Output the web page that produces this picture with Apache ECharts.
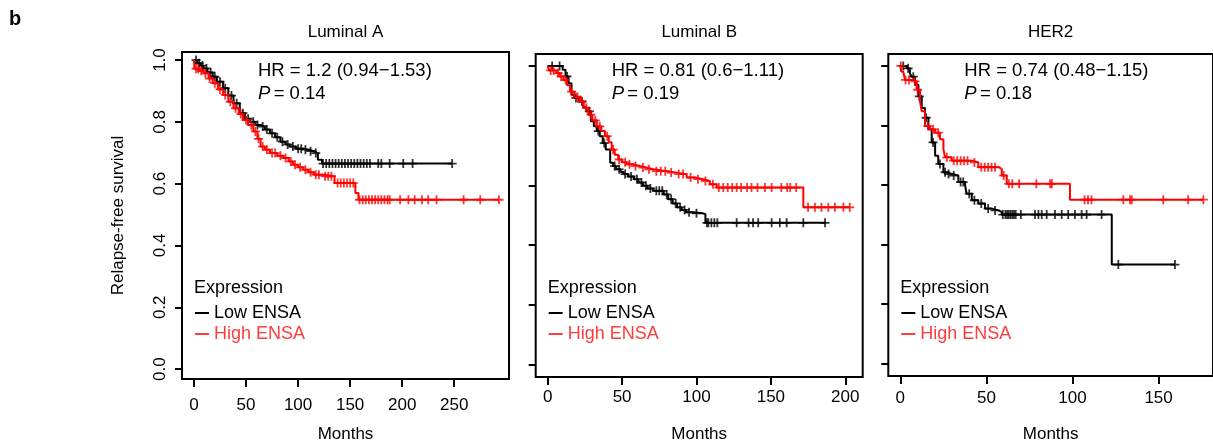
<!DOCTYPE html>
<html><head><meta charset="utf-8">
<script src="https://cdn.jsdelivr.net/npm/echarts@6/dist/echarts.min.js"></script>
<style>html,body{margin:0;padding:0;background:#fff}#c{width:1213px;height:448px}</style>
</head><body><div id="c"></div>
<script>
// ---------- data ----------
const panelTitles = ['Luminal A', 'Luminal B', 'HER2'];
const hrTexts = ['HR = 1.2 (0.94\u22121.53)', 'HR = 0.81 (0.6\u22121.11)', 'HR = 0.74 (0.48\u22121.15)'];
const pValues = ['0.14', '0.19', '0.18'];
const xTickValues = [[0, 50, 100, 150, 200, 250], [0, 50, 100, 150, 200], [0, 50, 100, 150]];
const yTickValues = [0, 0.2, 0.4, 0.6, 0.8, 1.0];
const groupNames = ['Low ENSA', 'High ENSA'];

// Luminal A
const lumA_low_t = [0, 3, 6, 9, 13, 18, 22, 28, 33, 38, 44, 49, 54, 59, 63, 68, 73, 78, 83, 88, 92, 98, 105, 110, 115, 119, 123, 248];
const lumA_low_s = [1.0, 0.99, 0.982, 0.973, 0.96, 0.946, 0.93, 0.909, 0.885, 0.86, 0.828, 0.81, 0.80, 0.79, 0.785, 0.775, 0.763, 0.75, 0.736, 0.727, 0.72, 0.713, 0.71, 0.705, 0.699, 0.677, 0.665, 0.665];
const lumA_low_cens = [2, 5, 8, 12, 16, 20, 25, 30, 36, 41, 47, 52, 57, 61, 66, 70, 75, 80, 85, 90, 95, 100, 103, 107, 112, 117, 124, 127, 130, 133, 136, 139, 142, 145, 148, 151, 154, 157, 160, 163, 166, 169, 177, 180, 188, 201, 210, 248];
const lumA_high_t = [0, 0.5, 5, 9, 14, 18, 23, 28, 33, 38, 43, 47, 52, 57, 61, 64, 68, 73, 80, 86, 91, 95, 100, 105, 110, 115, 124, 135, 155, 158, 293];
const lumA_high_s = [1.0, 0.972, 0.965, 0.957, 0.94, 0.925, 0.905, 0.887, 0.865, 0.844, 0.825, 0.806, 0.79, 0.769, 0.745, 0.72, 0.71, 0.699, 0.69, 0.683, 0.672, 0.661, 0.653, 0.645, 0.637, 0.629, 0.624, 0.602, 0.57, 0.548, 0.548];
const lumA_high_cens = [2, 4, 7, 11, 15, 20, 25, 30, 35, 40, 45, 50, 55, 59, 62, 66, 70, 75, 78, 83, 88, 93, 97, 102, 107, 112, 117, 120, 126, 129, 132, 138, 141, 144, 147, 150, 153, 159, 162, 165, 168, 171, 174, 177, 180, 183, 186, 188, 198, 206, 212, 219, 225, 233, 259, 275, 293];

// Luminal B
const lumB_low_t = [0, 10, 12, 14, 16, 18, 21, 24, 26, 29, 31, 33, 35, 37, 39, 42, 44, 46, 49, 51, 54, 58, 61, 64, 67, 71, 78, 81, 84, 87, 90, 93, 98, 104, 106, 187];
const lumB_low_s = [1.0, 0.987, 0.965, 0.942, 0.904, 0.893, 0.881, 0.862, 0.848, 0.815, 0.798, 0.782, 0.765, 0.742, 0.72, 0.676, 0.665, 0.654, 0.645, 0.638, 0.63, 0.621, 0.61, 0.599, 0.59, 0.582, 0.57, 0.554, 0.54, 0.527, 0.518, 0.51, 0.507, 0.504, 0.475, 0.475];
const lumB_low_cens = [3, 8, 13, 19, 23, 28, 34, 38, 45, 48, 52, 56, 60, 63, 66, 69, 73, 75, 77, 80, 83, 86, 89, 92, 95, 100, 107, 108, 110, 112, 114, 127, 135, 138, 141.5, 150.5, 156, 160.6, 171.8, 186.4];
const lumB_high_t = [0, 1, 6, 8, 10.5, 13, 15, 18, 21.7, 24, 27.3, 30, 33, 36, 38.5, 41, 43, 45, 47.4, 50, 53, 57, 62, 66, 71, 80, 86.7, 93.4, 99, 104.6, 109, 113.6, 171.8, 203];
const lumB_high_s = [1.0, 0.985, 0.976, 0.965, 0.953, 0.935, 0.914, 0.897, 0.881, 0.86, 0.837, 0.818, 0.798, 0.782, 0.765, 0.745, 0.72, 0.703, 0.687, 0.678, 0.671, 0.665, 0.66, 0.654, 0.648, 0.643, 0.638, 0.627, 0.621, 0.615, 0.604, 0.593, 0.527, 0.527];
const lumB_high_cens = [2, 4, 7, 9, 12, 16, 20, 23, 26, 29, 32, 35, 40, 44, 48, 52, 55, 59, 64, 68, 73, 76, 79, 83, 88, 91, 96, 101, 106, 111, 115, 118, 121, 124, 127, 130, 134, 137, 141, 146, 150.5, 157, 161, 163, 167, 175, 179.6, 184, 188.6, 193, 198.7, 203];

// HER2
const her2_low_t = [0, 3.7, 5.5, 6.6, 8.5, 10.5, 12.4, 14.3, 16.3, 18.2, 20.2, 22, 25, 27, 29.8, 33.7, 37.6, 38.5, 41.5, 45.3, 49.2, 53, 56.9, 58.9, 122.8, 159.5];
const her2_low_s = [1.0, 0.992, 0.975, 0.964, 0.937, 0.898, 0.859, 0.826, 0.787, 0.743, 0.698, 0.671, 0.643, 0.637, 0.632, 0.61, 0.599, 0.571, 0.549, 0.538, 0.521, 0.515, 0.51, 0.501, 0.333, 0.333];
const her2_low_cens = [1.7, 4.5, 7.5, 11, 15, 19, 23, 26, 28, 31, 35, 36.5, 40, 43, 47, 51, 55, 59.5, 61, 62, 63, 64, 65, 66, 67, 70, 78.2, 80.2, 82.1, 85, 89.8, 93.7, 97.5, 101.4, 105.3, 108.2, 116.9, 126.6, 159.5];
const her2_high_t = [0, 0.5, 1.7, 2.7, 7.5, 9.5, 11.4, 12.4, 14.3, 17.2, 20.1, 23, 25, 26, 29.8, 41.5, 45.3, 57, 58.9, 61.8, 98.5, 176];
const her2_high_s = [1.0, 0.981, 0.976, 0.953, 0.948, 0.92, 0.881, 0.848, 0.798, 0.787, 0.776, 0.754, 0.72, 0.693, 0.682, 0.676, 0.66, 0.654, 0.632, 0.604, 0.551, 0.551];
const her2_high_cens = [0.3, 3, 5, 8.5, 10, 16, 19, 22, 27, 31, 33, 35, 37, 39, 43, 47, 49, 51, 53, 55, 60, 63, 65, 69, 79, 87, 88, 107, 109, 111, 129.5, 133.4, 134.4, 152.7, 167.2, 176];

// ---------- layout ----------
const layout = [
  {left: 182, top: 52, width: 327, height: 328, xmin: -11.5, xmax: 302.6, ymin: -0.032, ymax: 1.026, labMargin: 18, nameGap: 47},
  {left: 535.7, top: 54, width: 327, height: 325, xmin: -8.06, xmax: 211.7, ymin: -0.041, ymax: 1.04, labMargin: 12, nameGap: 49},
  {left: 888.3, top: 54, width: 324.7, height: 325, xmin: -7.0, xmax: 181.6, ymin: -0.041, ymax: 1.04, labMargin: 14, nameGap: 50}
];
const curves = [
  [[lumA_low_t, lumA_low_s, lumA_low_cens], [lumA_high_t, lumA_high_s, lumA_high_cens]],
  [[lumB_low_t, lumB_low_s, lumB_low_cens], [lumB_high_t, lumB_high_s, lumB_high_cens]],
  [[her2_low_t, her2_low_s, her2_low_cens], [her2_high_t, her2_high_s, her2_high_cens]]
];
const lineColors = ['#000000', '#ff0000'];
const legendColors = ['#000000', '#ff3b3b'];
const FONT = 'Liberation Sans, Arial, Helvetica, sans-serif';

function survAt(ts, ss, t) {
  let v = ss[0];
  for (let i = 0; i < ts.length; i++) { if (ts[i] <= t) v = ss[i]; else break; }
  return v;
}
const plusPath = 'path://M4,0h2v4h4v2h-4v4h-2v-4h-4v-2h4z';

const grids = [], xAxes = [], yAxes = [], series = [], legends = [], graphics = [];
layout.forEach((L, p) => {
  grids.push({left: L.left, top: L.top, width: L.width, height: L.height, show: true,
    borderColor: '#000', borderWidth: 2, backgroundColor: 'transparent', containLabel: false});
  xAxes.push({type: 'value', gridIndex: p, min: L.xmin, max: L.xmax, position: 'bottom',
    name: 'Months', nameLocation: 'middle', nameGap: L.nameGap,
    nameTextStyle: {fontFamily: FONT, fontSize: 17, color: '#000'},
    axisLine: {show: false, onZero: false}, splitLine: {show: false},
    axisTick: {show: true, length: 8, lineStyle: {color: '#000', width: 2}, customValues: xTickValues[p]},
    axisLabel: {show: true, margin: L.labMargin, fontFamily: FONT, fontSize: 17, color: '#000', customValues: xTickValues[p]}
  });
  yAxes.push({type: 'value', gridIndex: p, min: L.ymin, max: L.ymax, position: 'left',
    name: p === 0 ? 'Relapse-free survival' : '', nameLocation: 'middle', nameGap: 55,
    nameTextStyle: {fontFamily: FONT, fontSize: 17, color: '#000'},
    axisLine: {show: false, onZero: false}, splitLine: {show: false},
    axisTick: {show: true, length: 7, lineStyle: {color: '#000', width: 2}, customValues: yTickValues},
    axisLabel: {show: p === 0, rotate: 90, margin: 13, fontFamily: FONT, fontSize: 17, color: '#000',
      customValues: yTickValues, formatter: v => v.toFixed(1)}
  });
  curves[p].forEach((c, g) => {
    const [ts, ss, cens] = c;
    series.push({type: 'line', name: groupNames[g], xAxisIndex: p, yAxisIndex: p, step: 'end',
      showSymbol: false, symbol: 'none', silent: true, animation: false, z: 3 + g,
      lineStyle: {color: lineColors[g], width: 2}, itemStyle: {color: lineColors[g]},
      data: ts.map((t, i) => [t, ss[i]])});
    series.push({type: 'scatter', name: groupNames[g] + ' censored', xAxisIndex: p, yAxisIndex: p,
      symbol: plusPath, symbolSize: [9, 9], silent: true, animation: false, z: 3 + g,
      itemStyle: {color: lineColors[g]},
      data: cens.map(t => [t, survAt(ts, ss, t)])});
  });
  legends.push({show: true, orient: 'vertical', left: L.left + 8, top: 299, itemGap: 3,
    itemWidth: 14, itemHeight: 2, icon: 'rect', selectedMode: false,
    textStyle: {fontFamily: FONT, fontSize: 18},
    data: groupNames.map((n, g) => ({name: n, icon: 'rect', itemStyle: {color: legendColors[g]},
      textStyle: {color: legendColors[g], fontFamily: FONT, fontSize: 18}}))});
  graphics.push({type: 'text', left: L.left + 12, top: 279,
    style: {text: 'Expression', font: '18px ' + FONT, fill: '#000'}});
  graphics.push({type: 'text', left: L.left + 76, top: 61,
    style: {text: hrTexts[p], font: '18.5px ' + FONT, fill: '#000'}});
  graphics.push({type: 'text', left: L.left + 76, top: 84,
    style: {rich: {i: {fontStyle: 'italic', fontSize: 18.5, fontFamily: FONT, fill: '#000'},
                   n: {fontSize: 18.5, fontFamily: FONT, fill: '#000'}},
            text: '{i|P} {n|= ' + pValues[p] + '}'}});
  graphics.push({type: 'text', x: L.left + L.width / 2, y: 24,
    style: {text: panelTitles[p], font: '17px ' + FONT, fill: '#000', align: 'center'}});
});
graphics.push({type: 'text', left: 9, top: 9, style: {text: 'b', font: 'bold 20px ' + FONT, fill: '#000'}});

const chart = echarts.init(document.getElementById('c'), null, {renderer: 'canvas'});
chart.setOption({
  animation: false, backgroundColor: '#fff',
  grid: grids, xAxis: xAxes, yAxis: yAxes, series: series, legend: legends, graphic: graphics
});
</script></body></html>
